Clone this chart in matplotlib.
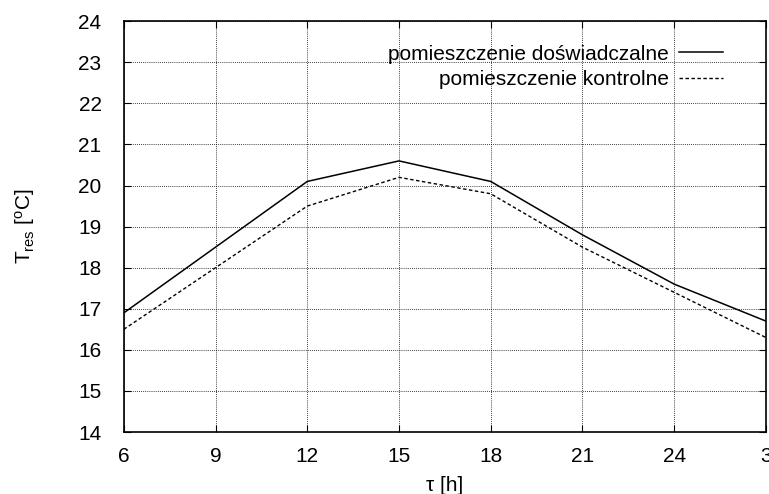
import matplotlib
matplotlib.use("Agg")
import matplotlib.pyplot as plt

plt.rcParams['font.family'] = ['Liberation Sans', 'DejaVu Sans']
plt.rcParams['mathtext.fontset'] = 'custom'
plt.rcParams['mathtext.rm'] = 'Liberation Sans'
plt.rcParams['mathtext.default'] = 'regular'

# hours of the day (3 = 3 a.m. next day)
hours = [6, 9, 12, 15, 18, 21, 24, 27]
hour_labels = ["6", "9", "12", "15", "18", "21", "24", "3"]

# resultant temperature
t_exp = [16.9, 18.5, 20.1, 20.6, 20.1, 18.8, 17.6, 16.7]
t_ctrl = [16.5, 18.0, 19.5, 20.2, 19.8, 18.5, 17.4, 16.3]

fig, ax = plt.subplots(figsize=(7.69, 4.94), dpi=100)
fig.subplots_adjust(left=0.161, right=0.996, top=0.957, bottom=0.1255)

ax.plot(hours, t_exp, color='black', lw=1.1, label='pomieszczenie doświadczalne')
ax.plot(hours, t_ctrl, color='black', lw=1.0, dashes=(2.5, 1.8), label='pomieszczenie kontrolne')

ax.set_xlim(6, 27)
ax.set_ylim(14, 24)
ax.set_xticks(hours)
ax.set_xticklabels(hour_labels)
ax.set_yticks(range(14, 25))
ax.tick_params(direction='in', top=True, right=True, labelsize=15, length=5)
ax.tick_params(axis='x', pad=11)
ax.tick_params(axis='y', pad=16)
ax.grid(True, color='black', linestyle=(0, (1, 1.5)), linewidth=0.6)

for s in ax.spines.values():
    s.set_linewidth(1.2)

ax.set_xlabel('τ [h]', fontsize=15, labelpad=7)
ax.set_ylabel('T$_{res}$ [$^{o}$C]', fontsize=15, labelpad=30)

ax.legend(loc='upper right', frameon=False, markerfirst=False, fontsize=15,
          handlelength=2.1, handletextpad=0.5, labelspacing=0.3,
          borderpad=0, borderaxespad=0,
          bbox_to_anchor=(0.933, 0.943))

fig.savefig('out.png', dpi=100)
